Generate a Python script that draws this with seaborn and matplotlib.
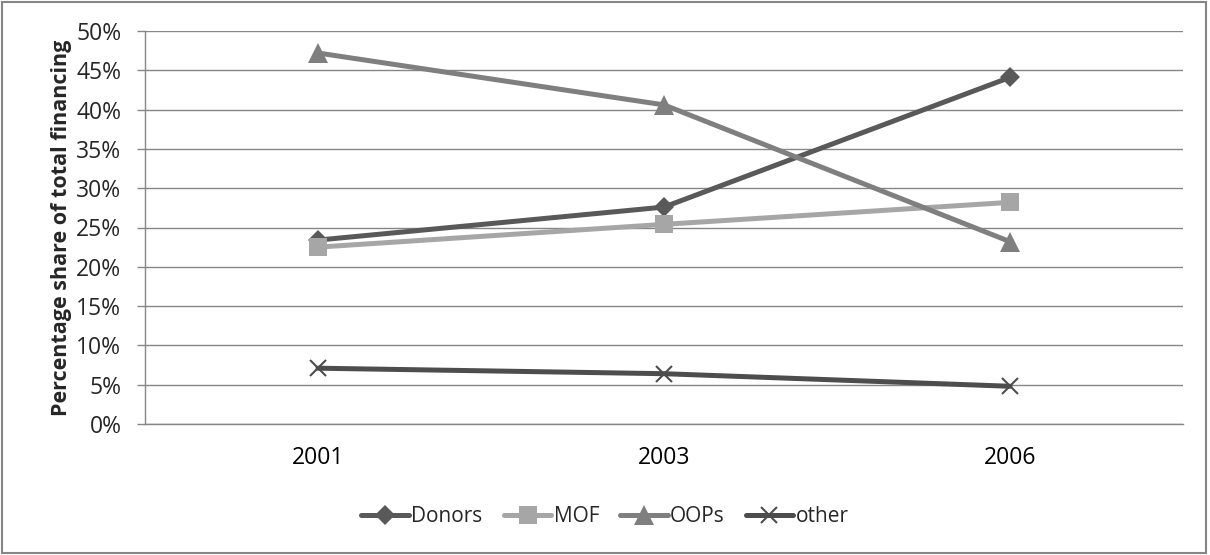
import matplotlib
matplotlib.use("Agg")
import matplotlib.pyplot as plt
import seaborn as sns
import pandas as pd
from matplotlib.ticker import FuncFormatter, FixedLocator
from matplotlib.patches import Rectangle

years = ["2001", "2003", "2006"]
donors = [23.4, 27.6, 44.1]
mof = [22.5, 25.4, 28.2]
oops = [47.2, 40.6, 23.2]
other = [7.1, 6.4, 4.8]

series_names = ["Donors", "MOF", "OOPs", "other"]
series_values = [donors, mof, oops, other]

rows = []
for name, vals in zip(series_names, series_values):
    for i, v in enumerate(vals):
        rows.append({"pos": i, "year": years[i], "series": name, "share": v})
df = pd.DataFrame(rows)

sns.set_theme(style="white")
plt.rcParams["font.family"] = ["Open Sans", "DejaVu Sans"]

palette = {"Donors": "#595959", "MOF": "#A6A6A6", "OOPs": "#7F7F7F", "other": "#4D4D4D"}
markers = {"Donors": "D", "MOF": "s", "OOPs": "^", "other": "x"}
msizes = {"Donors": 10, "MOF": 13, "OOPs": 14, "other": 11}

fig = plt.figure(figsize=(12.1, 5.55), dpi=100)
ax = fig.add_axes([145 / 1210, 1 - 424 / 555, (1183 - 145) / 1210, (424 - 31) / 555])

for name in series_names:
    sub = df[df["series"] == name]
    sns.lineplot(data=sub, x="pos", y="share", ax=ax, color=palette[name],
                 marker=markers[name], markersize=msizes[name], linewidth=3.6,
                 markeredgecolor=palette[name], markeredgewidth=1.5 if name == "other" else 0,
                 label=name, legend=False)

ax.set_xlim(-0.5, 2.5)
ax.set_ylim(0, 50)
ax.yaxis.set_major_locator(FixedLocator(range(0, 51, 5)))
ax.yaxis.set_major_formatter(FuncFormatter(lambda v, p: f"{int(v)}%"))
ax.set_xticks([0, 1, 2])
ax.set_xticklabels(years)
ax.set_xticks([-0.5, 0.5, 1.5, 2.5], minor=True)
ax.tick_params(axis="x", which="major", length=0, pad=16, labelsize=16.5, colors="#000000")
ax.tick_params(axis="x", which="minor", length=6, width=1, color="#868686", direction="out")
ax.tick_params(axis="y", which="major", length=6, width=1, color="#868686", direction="out",
               labelsize=16.5, pad=11, left=True)
ax.grid(axis="y", color="#868686", linewidth=1)
ax.set_axisbelow(True)
for s in ["top", "right"]:
    ax.spines[s].set_visible(False)
for s in ["left", "bottom"]:
    ax.spines[s].set_color("#868686")
    ax.spines[s].set_linewidth(1)
ax.set_xlabel("")
ax.set_ylabel("Percentage share of total financing", fontsize=15.5, fontweight="bold", labelpad=3)

handles, labels = ax.get_legend_handles_labels()
fig.legend(handles, labels, loc="center", bbox_to_anchor=(0.5, 1 - 517 / 555), ncol=4,
           frameon=False, fontsize=15, handlelength=2.3, handletextpad=0.1,
           columnspacing=1.0)

fig.patches.append(Rectangle((0.002, 0.003), 0.995, 0.993, transform=fig.transFigure,
                             fill=False, edgecolor="#868686", linewidth=1.5))

fig.savefig("out.png", dpi=100)
